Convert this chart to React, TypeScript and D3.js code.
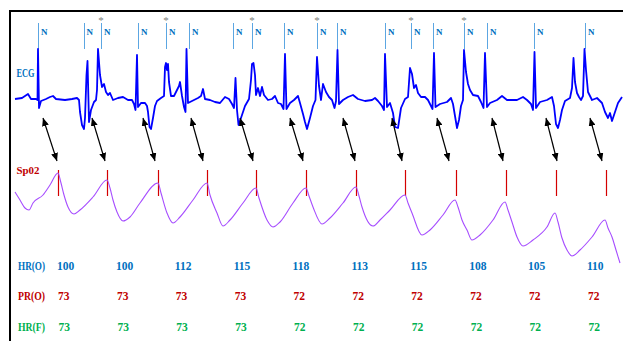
import * as d3 from 'd3';
import { useEffect } from 'react';

// ECG samples: [time s, mV]
const ecg: [number, number][] = [
  [0.0, 0.0], [0.14, 0.02], [0.2, 0.06], [0.26, 0.1], [0.32, 0.0], [0.42, 0.0], [0.45, -0.02], [0.46, 1.0],
  [0.48, -0.18], [0.52, -0.04], [0.62, 0.0], [0.7, 0.04], [0.76, 0.06], [0.82, 0.0], [1.0, -0.02], [1.14, 0.0],
  [1.24, 0.02], [1.28, -0.02], [1.3, -0.26], [1.34, -0.52], [1.38, -0.6], [1.4, -0.38], [1.43, 0.48], [1.45, 0.76],
  [1.48, -0.46], [1.52, -0.22], [1.58, -0.06], [1.62, -0.02], [1.64, 0.18], [1.66, 1.0], [1.7, 0.48], [1.74, 0.24],
  [1.78, 0.3], [1.82, 0.14], [1.86, 0.08], [1.9, 0.12], [1.96, -0.02], [2.06, 0.02], [2.16, 0.04], [2.26, -0.02],
  [2.34, -0.02], [2.38, -0.1], [2.41, -0.22], [2.44, 0.88], [2.46, -0.16], [2.52, -0.08], [2.6, -0.08], [2.64, -0.14],
  [2.66, -0.26], [2.69, -0.56], [2.72, -0.6], [2.76, -0.38], [2.8, -0.14], [2.84, -0.04], [2.92, 0.02], [2.98, 0.06],
  [3.0, 0.64], [3.02, 0.72], [3.04, 0.58], [3.06, 0.7], [3.08, 0.34], [3.12, 0.06], [3.18, 0.06], [3.24, 0.18],
  [3.28, 0.26], [3.3, 0.34], [3.34, 0.06], [3.38, -0.16], [3.41, -0.26], [3.43, 1.0], [3.46, -0.08], [3.54, -0.04],
  [3.66, 0.02], [3.72, 0.06], [3.76, 0.2], [3.8, 0.0], [3.9, -0.02], [4.0, -0.06], [4.1, -0.08], [4.2, 0.04],
  [4.28, 0.0], [4.34, -0.1], [4.38, -0.18], [4.41, 0.42], [4.44, -0.22], [4.47, -0.52], [4.52, -0.38], [4.6, -0.14],
  [4.68, 0.0], [4.72, 0.38], [4.74, 0.7], [4.77, 0.72], [4.8, 0.48], [4.82, 0.08], [4.86, 0.22], [4.9, 0.06],
  [4.94, 0.24], [4.98, 0.08], [5.06, -0.02], [5.14, 0.0], [5.2, 0.06], [5.26, -0.08], [5.32, -0.1], [5.37, -0.2],
  [5.4, 0.9], [5.43, -0.2], [5.5, -0.08], [5.58, -0.02], [5.66, 0.06], [5.7, -0.08], [5.76, -0.3], [5.8, -0.46],
  [5.84, -0.6], [5.9, -0.38], [5.96, -0.14], [6.01, -0.02], [6.04, 0.84], [6.08, 0.26], [6.12, -0.02], [6.16, 0.3],
  [6.22, 0.14], [6.28, 0.04], [6.34, -0.02], [6.39, -0.18], [6.42, -0.04], [6.45, 0.98], [6.48, -0.1], [6.56, -0.02],
  [6.66, 0.04], [6.76, 0.08], [6.86, 0.0], [7.0, -0.04], [7.14, -0.02], [7.2, 0.02], [7.26, -0.04], [7.34, -0.14],
  [7.38, -0.22], [7.4, 0.9], [7.44, -0.16], [7.5, -0.08], [7.56, -0.28], [7.6, -0.56], [7.66, -0.58], [7.72, -0.18],
  [7.8, 0.0], [7.86, 0.04], [7.9, 0.62], [7.94, 0.5], [7.98, 0.22], [8.02, 0.28], [8.06, 0.12], [8.12, 0.04],
  [8.2, 0.04], [8.26, -0.02], [8.32, -0.14], [8.35, -0.2], [8.38, 0.92], [8.41, -0.16], [8.5, -0.1], [8.64, -0.06],
  [8.72, 0.02], [8.76, -0.1], [8.8, -0.34], [8.84, -0.58], [8.88, -0.42], [8.92, -0.14], [8.96, -0.02], [8.98, 0.98],
  [9.02, 0.54], [9.06, 0.3], [9.1, 0.18], [9.16, 0.08], [9.26, 0.06], [9.32, -0.06], [9.37, -0.18], [9.4, 0.92],
  [9.44, -0.16], [9.5, -0.08], [9.64, -0.02], [9.74, 0.06], [9.84, -0.02], [10.04, -0.02], [10.16, 0.04], [10.24, -0.02],
  [10.32, -0.1], [10.36, -0.22], [10.39, 0.94], [10.42, -0.18], [10.5, -0.06], [10.64, -0.02], [10.74, 0.04], [10.78, -0.14],
  [10.82, -0.5], [10.86, -0.58], [10.9, -0.42], [10.94, -0.22], [11.0, -0.04], [11.1, 0.02], [11.14, 0.22], [11.17, 0.82],
  [11.2, 0.34], [11.24, 0.12], [11.28, 0.04], [11.32, -0.02], [11.36, 0.06], [11.39, 1.0], [11.42, 0.58], [11.46, 0.14],
  [11.54, -0.02], [11.64, 0.02], [11.74, -0.08], [11.8, -0.26], [11.86, -0.38], [11.9, -0.28], [11.94, -0.44], [12.0, -0.26],
  [12.06, -0.08], [12.14, 0.04],
];

// SpO2 pleth samples: [time s, normalized amplitude]
const pleth: [number, number][] = [
  [0.0, 0.73], [0.1, 0.65], [0.2, 0.57], [0.28, 0.55], [0.36, 0.62], [0.56, 0.7], [0.7, 0.8], [0.86, 0.92],
  [0.92, 0.82], [0.98, 0.7], [1.06, 0.58], [1.18, 0.51], [1.3, 0.55], [1.56, 0.68], [1.84, 0.85], [1.9, 0.77],
  [1.96, 0.65], [2.04, 0.53], [2.16, 0.44], [2.3, 0.48], [2.5, 0.62], [2.86, 0.82], [2.92, 0.72], [3.04, 0.52],
  [3.16, 0.42], [3.3, 0.48], [3.56, 0.65], [3.84, 0.82], [3.9, 0.7], [4.04, 0.52], [4.16, 0.39], [4.3, 0.45],
  [4.56, 0.62], [4.82, 0.77], [4.88, 0.67], [5.04, 0.45], [5.16, 0.38], [5.3, 0.43], [5.56, 0.62], [5.82, 0.77],
  [5.88, 0.69], [5.96, 0.58], [6.14, 0.41], [6.3, 0.47], [6.56, 0.62], [6.82, 0.78], [6.88, 0.69], [6.94, 0.58],
  [7.16, 0.39], [7.3, 0.45], [7.5, 0.55], [7.8, 0.7], [7.86, 0.62], [7.94, 0.52], [8.14, 0.3], [8.3, 0.35],
  [8.56, 0.5], [8.8, 0.65], [8.86, 0.58], [8.94, 0.45], [9.04, 0.35], [9.14, 0.25], [9.3, 0.3], [9.56, 0.45],
  [9.8, 0.63], [9.86, 0.55], [9.94, 0.43], [10.04, 0.28], [10.16, 0.19], [10.36, 0.25], [10.64, 0.38], [10.8, 0.52],
  [10.86, 0.43], [10.94, 0.27], [11.04, 0.15], [11.14, 0.09], [11.3, 0.15], [11.54, 0.28], [11.8, 0.45], [11.86, 0.37],
  [11.94, 0.28], [12.02, 0.15], [12.1, 0.02],
];

const beatTimes = [0.46, 1.37, 1.72, 2.46, 3.02, 3.48, 4.36, 4.74, 5.38, 6.04, 6.44, 7.4, 7.92, 8.36, 8.98, 9.44, 10.38, 11.4];
const starredBeats = [2, 4, 7, 9, 12, 14];
const pulseTimes = [0.86, 1.84, 2.86, 3.84, 4.82, 5.82, 6.82, 7.8, 8.82, 9.82, 10.82, 11.82];
const arrowFrom = [0.56, 1.54, 2.56, 3.52, 4.5, 5.5, 6.56, 7.54, 8.44, 9.54, 10.62, 11.5];
const arrowTo = [0.84, 1.8, 2.8, 3.76, 4.76, 5.76, 6.8, 7.74, 8.68, 9.76, 10.84, 11.74];

const hrO = [100, 100, 112, 115, 118, 113, 115, 108, 105, 110];
const prO = [73, 73, 73, 73, 72, 72, 72, 72, 72, 72];
const hrF = [73, 73, 73, 73, 72, 72, 72, 72, 72, 72];

const W = 623;
const H = 341;
const FONT = '"Liberation Serif", serif';

export default function App() {
  useEffect(() => {
    document.body.style.margin = '0';
    document.documentElement.style.overflow = 'hidden';
  }, []);

  const x = d3.scaleLinear().domain([0, 12]).range([15, 615]);
  const yEcg = d3.scaleLinear().domain([-1, 1]).range([149, 49]);
  const yPleth = d3.scaleLinear().domain([0, 1]).range([265, 165]);
  const col = d3.scalePoint<number>().domain(d3.range(hrO.length)).range([57, 587]);

  const ecgLine = d3.line<[number, number]>().x((d) => x(d[0])).y((d) => yEcg(d[1]));
  const plethLine = d3
    .line<[number, number]>()
    .x((d) => x(d[0]))
    .y((d) => yPleth(d[1]))
    .curve(d3.curveMonotoneX);

  const rows = [
    { label: 'HR(O)', values: hrO, color: '#0070c0', y: 270, dx: 0 },
    { label: 'PR(O)', values: prO, color: '#c00000', y: 300, dx: 1 },
    { label: 'HR(F)', values: hrF, color: '#00b050', y: 331, dx: 1.5 },
  ];

  return (
    <svg width={W} height={H} style={{ position: 'absolute', left: 0, top: 0, display: 'block', background: '#fff' }}>
      <defs>
        <marker id="ah" viewBox="0 0 8 7" refX="8" refY="3.5" markerWidth="8" markerHeight="7"
          markerUnits="userSpaceOnUse" orient="auto-start-reverse">
          <path d="M0,0 L8,3.5 L0,7 z" fill="#000" />
        </marker>
      </defs>

      {/* frame: top and left only */}
      <line x1={9} y1={11} x2={W} y2={11} stroke="#000" strokeWidth={2} />
      <line x1={10} y1={10} x2={10} y2={H} stroke="#000" strokeWidth={2} />

      {/* beat annotations */}
      {beatTimes.map((t, i) => (
        <g key={'b' + i}>
          <line x1={Math.round(x(t)) + 0.5} x2={Math.round(x(t)) + 0.5} y1={23} y2={49} stroke="#5ca6e2" strokeWidth={1} />
          <text x={x(t) + 3} y={35} fill="#0070c0" fontFamily={FONT} fontWeight="bold" fontSize={9}>N</text>
          {starredBeats.includes(i) && (
            <text x={x(t)} y={24} fill="#808080" fontFamily={FONT} fontSize={11} textAnchor="middle">*</text>
          )}
        </g>
      ))}

      <text x={16.5} y={77} fill="#0070c0" fontFamily={FONT} fontWeight="bold" fontSize={11.5} textLength={18} lengthAdjust="spacingAndGlyphs">ECG</text>
      <path d={ecgLine(ecg) ?? ''} fill="none" stroke="#0000ff" strokeWidth={1.8} strokeLinejoin="round" />

      {/* arrows */}
      {arrowFrom.map((t, i) => (
        <line key={'a' + i} x1={x(t)} y1={118} x2={x(arrowTo[i])} y2={161} stroke="#000" strokeWidth={1.2}
          markerStart="url(#ah)" markerEnd="url(#ah)" />
      ))}

      <text x={16.5} y={174} fill="#c00000" fontFamily={FONT} fontWeight="bold" fontSize={11} textLength={23} lengthAdjust="spacingAndGlyphs">Sp02</text>
      {pulseTimes.map((t, i) => (
        <line key={'p' + i} x1={Math.round(x(t)) + 0.5} x2={Math.round(x(t)) + 0.5} y1={170} y2={196} stroke="#d40000" strokeWidth={1.2} />
      ))}
      <path d={plethLine(pleth) ?? ''} fill="none" stroke="#a64dff" strokeWidth={1.1} />

      {/* value rows */}
      {rows.map((r) => (
        <g key={r.label} fill={r.color} fontFamily={FONT} fontWeight="bold" fontSize={11.5}>
          <text x={18} y={r.y} textLength={27} lengthAdjust="spacingAndGlyphs">{r.label}</text>
          {r.values.map((v, i) => (
            <text key={i} x={(col(i) ?? 0) + r.dx} y={r.y}>{v}</text>
          ))}
        </g>
      ))}
    </svg>
  );
}
